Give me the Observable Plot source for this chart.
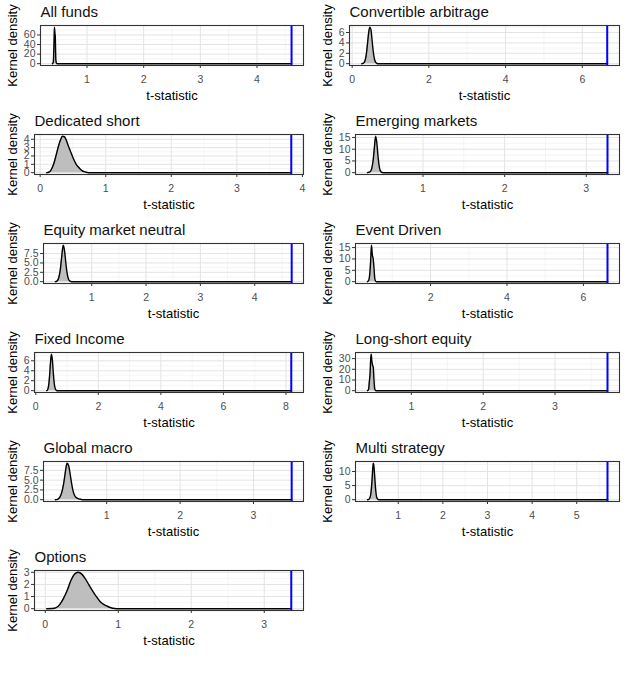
<!DOCTYPE html>
<html>
<head>
<meta charset="utf-8">
<script src="https://cdn.jsdelivr.net/npm/d3@7"></script>
<script src="https://cdn.jsdelivr.net/npm/@observablehq/plot@0.6"></script>
<style>
  body { margin: 0; background: #fff; }
  #panels { display: grid; grid-template-columns: 315px 314px; grid-auto-rows: 109px; width: 629px; }
  #panels svg { display: block; }
</style>
</head>
<body>
<div id="panels"></div>
<script>
// Strategy panels, in reading order (left to right, top to bottom)
const panelNames = [
  "All funds", "Convertible arbitrage",
  "Dedicated short", "Emerging markets",
  "Equity market neutral", "Event Driven",
  "Fixed Income", "Long-short equity",
  "Global macro", "Multi strategy",
  "Options"
];

// Observed t-statistic of each strategy (blue line)
const observedT = [4.61, 6.65, 3.83, 3.26, 4.68, 6.63, 8.17, 3.73, 3.52, 5.69, 3.37];

// Axis tick values per panel
const xTickValues = [
  [1, 2, 3, 4], [0, 2, 4, 6],
  [0, 1, 2, 3, 4], [1, 2, 3],
  [1, 2, 3, 4], [2, 4, 6],
  [0, 2, 4, 6, 8], [1, 2, 3],
  [1, 2, 3], [1, 2, 3, 4, 5],
  [0, 1, 2, 3]
];
const yTickValues = [
  [0, 20, 40, 60], [0, 2, 4, 6],
  [0, 1, 2, 3, 4], [0, 5, 10, 15],
  [0, 2.5, 5, 7.5], [0, 5, 10, 15],
  [0, 2, 4, 6], [0, 10, 20, 30],
  [0, 2.5, 5, 7.5], [0, 5, 10],
  [0, 1, 2, 3]
];

// Kernel density of the bootstrapped t-statistics: [t, density]
const densityAllFunds = [[0.39,0],[0.405,3],[0.415,33],[0.42,55],[0.425,76],[0.43,70],[0.435,62],[0.44,58],[0.445,30],[0.45,8],[0.46,1],[0.47,0],[4.61,0]];
const densityConvertible = [[0.25,0],[0.28,0.05],[0.31,0.2],[0.34,0.7],[0.37,1.9],[0.40,3.9],[0.43,6.0],[0.46,7.0],[0.49,6.5],[0.52,4.4],[0.55,2.3],[0.58,0.9],[0.61,0.3],[0.64,0.08],[0.68,0],[6.65,0]];
const densityDedicatedShort = [[0.10,0],[0.13,0.05],[0.16,0.25],[0.19,0.7],[0.22,1.4],[0.25,2.3],[0.28,3.2],[0.31,3.9],[0.34,4.35],[0.37,4.3],[0.40,3.85],[0.43,3.2],[0.46,2.6],[0.49,2.0],[0.52,1.45],[0.55,1.0],[0.58,0.7],[0.61,0.45],[0.64,0.25],[0.67,0.12],[0.70,0.05],[0.74,0],[3.83,0]];
const densityEmerging = [[0.32,0],[0.35,0.3],[0.37,1.5],[0.39,5.5],[0.405,11],[0.42,15.5],[0.435,12.5],[0.45,6.5],[0.465,2.4],[0.48,0.7],[0.50,0.1],[0.53,0],[3.26,0]];
const densityEquityNeutral = [[0.33,0],[0.36,0.15],[0.39,0.9],[0.42,3.0],[0.445,6.3],[0.475,9.7],[0.50,8.2],[0.525,4.8],[0.55,2.0],[0.575,0.6],[0.60,0.15],[0.63,0],[4.68,0]];
const densityEventDriven = [[0.35,0],[0.38,0.5],[0.41,3.5],[0.435,10],[0.455,16],[0.475,12],[0.50,10],[0.52,6],[0.54,1.5],[0.56,0.3],[0.58,0],[6.63,0]];
const densityFixedIncome = [[0.35,0],[0.38,0.2],[0.41,1.0],[0.44,2.9],[0.47,5.6],[0.50,7.3],[0.53,6.2],[0.56,3.6],[0.59,1.5],[0.62,0.45],[0.65,0.1],[0.68,0],[8.17,0]];
const densityLongShort = [[0.39,0],[0.405,1],[0.415,8],[0.425,15],[0.435,30],[0.442,34],[0.45,28],[0.46,24],[0.47,22],[0.48,10],[0.49,2],[0.50,0.2],[0.51,0],[3.73,0]];
const densityGlobalMacro = [[0.30,0],[0.33,0.1],[0.36,0.6],[0.39,2.0],[0.42,4.9],[0.44,7.5],[0.46,9.3],[0.48,8.8],[0.50,6.8],[0.52,4.4],[0.54,2.4],[0.56,1.2],[0.58,0.6],[0.60,0.35],[0.62,0.2],[0.65,0.08],[0.68,0],[3.52,0]];
const densityMultiStrategy = [[0.31,0],[0.34,0.1],[0.37,0.9],[0.39,2.8],[0.41,6.5],[0.43,11.5],[0.44,12.9],[0.45,12.4],[0.47,8.5],[0.49,4.0],[0.51,1.3],[0.53,0.35],[0.55,0.07],[0.58,0],[5.69,0]];
const densityOptions = [[0.02,0],[0.10,0.01],[0.15,0.08],[0.20,0.35],[0.25,0.85],[0.30,1.5],[0.35,2.3],[0.40,2.85],[0.45,3.0],[0.50,2.85],[0.55,2.45],[0.60,1.95],[0.65,1.45],[0.70,1.0],[0.75,0.6],[0.80,0.35],[0.85,0.2],[0.90,0.08],[0.95,0.02],[1.00,0],[3.37,0]];

const densities = [
  densityAllFunds, densityConvertible,
  densityDedicatedShort, densityEmerging,
  densityEquityNeutral, densityEventDriven,
  densityFixedIncome, densityLongShort,
  densityGlobalMacro, densityMultiStrategy,
  densityOptions
];

const FONT = "'Liberation Sans', Arial, Helvetica, sans-serif";
const TICK_FONT_SIZE = 10.5;
const measure = document.createElement("canvas").getContext("2d");
measure.font = `${TICK_FONT_SIZE}px ${FONT}`;

// Half-step gridlines between the major ticks, restricted to the domain
function minorLines(ticks, [lo, hi]) {
  const step = ticks[1] - ticks[0];
  const out = [];
  for (let v = ticks[0] - step * 20 + step / 2; v <= hi; v += step) {
    if (v >= lo) out.push(v);
  }
  return out;
}

const container = document.getElementById("panels");

panelNames.forEach((name, i) => {
  const data = densities[i];
  const obs = observedT[i];
  const xTicks = xTickValues[i];
  const yTicks = yTickValues[i];

  // ggplot-style 5% expansion of the data range
  const xs = data.map(d => d[0]).concat([obs]);
  const xlo = Math.min(...xs), xhi = Math.max(...xs);
  const xpad = 0.05 * (xhi - xlo);
  const xDomain = [xlo - xpad, xhi + xpad];
  const ymax = Math.max(...data.map(d => d[1]));
  const yDomain = [-0.05 * ymax, 1.05 * ymax];

  const yFormat = yTicks.some(t => !Number.isInteger(t)) ? d => d.toFixed(1) : d => String(d);
  const labelWidth = Math.max(...yTicks.map(t => measure.measureText(yFormat(t)).width));
  const marginLeft = Math.round(28 + labelWidth);
  const isLeft = i % 2 === 0;

  const inX = xTicks.filter(t => t >= xDomain[0] && t <= xDomain[1]);
  const inY = yTicks.filter(t => t >= yDomain[0] && t <= yDomain[1]);

  const svg = Plot.plot({
    width: isLeft ? 315 : 314,
    height: 109,
    marginTop: 25,
    marginBottom: 44,
    marginLeft,
    marginRight: isLeft ? 12 : 10,
    style: { fontFamily: FONT, background: "#fff", overflow: "visible" },
    x: { domain: xDomain },
    y: { domain: yDomain },
    marks: [
      Plot.ruleX(minorLines(xTicks, xDomain), { stroke: "#f1f1f1", strokeWidth: 0.7 }),
      Plot.ruleY(minorLines(yTicks, yDomain), { stroke: "#f1f1f1", strokeWidth: 0.7 }),
      Plot.ruleX(inX, { stroke: "#e3e3e3", strokeWidth: 1 }),
      Plot.ruleY(inY, { stroke: "#e3e3e3", strokeWidth: 1 }),
      Plot.areaY(data, { x: d => d[0], y: d => d[1], fill: "#bebebe", curve: "monotone-x" }),
      Plot.lineY(data, { x: d => d[0], y: d => d[1], stroke: "#000", strokeWidth: 1.4, curve: "monotone-x" }),
      Plot.ruleX([obs], { stroke: "#0000ff", strokeWidth: 2 }),
      Plot.frame({ stroke: "#333", strokeWidth: 1.1 }),
      Plot.axisX(inX, {
        tickSize: 3, tickPadding: 7, fontSize: TICK_FONT_SIZE,
        fill: "#4d4d4d", stroke: "#333", label: null, tickFormat: d => String(d)
      }),
      Plot.axisY(inY, {
        tickSize: 3, tickPadding: 2, fontSize: TICK_FONT_SIZE,
        fill: "#4d4d4d", stroke: "#333", label: null, tickFormat: yFormat
      }),
      Plot.text([name], {
        text: d => d, frameAnchor: "top-left", dy: -13.5,
        textAnchor: "start", lineAnchor: "middle", fontSize: 15, fill: "#111"
      }),
      Plot.text(["t-statistic"], {
        text: d => d, frameAnchor: "bottom", dy: 30,
        textAnchor: "middle", lineAnchor: "middle", fontSize: 13, fill: "#000"
      }),
      Plot.text(["Kernel density"], {
        text: d => d, frameAnchor: "left", dx: 12 - marginLeft,
        textAnchor: "middle", lineAnchor: "middle",
        rotate: -90, fontSize: 13, fill: "#000"
      })
    ]
  });
  container.appendChild(svg);
});
</script>
</body>
</html>
